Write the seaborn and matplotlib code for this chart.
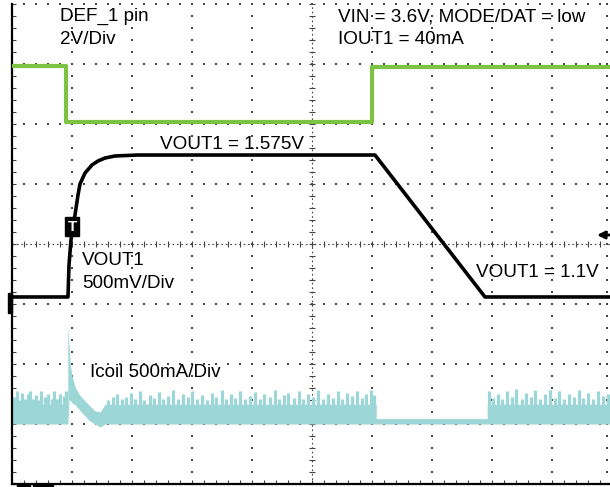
import numpy as np
import pandas as pd
import matplotlib
matplotlib.use("Agg")
import matplotlib.pyplot as plt
from matplotlib.patches import Rectangle
import seaborn as sns

# ---------------- data (oscilloscope divisions: x 0..10, y 0..8) ----------------
def_t = [0.0, 0.9, 0.9, 6.0, 6.0, 10.0]
def_v = [6.96, 6.96, 6.04, 6.04, 6.95, 6.95]

vout_t = [0.0, 0.933, 0.95, 0.983, 1.017, 1.05, 1.1, 1.133, 1.217, 1.333, 1.433,
          1.55, 1.717, 2.1, 6.05, 7.883, 10.0]
vout_v = [3.117, 3.117, 3.65, 4.067, 4.317, 4.483, 4.817, 5.0, 5.183, 5.317, 5.383,
          5.433, 5.467, 5.483, 5.483, 3.117, 3.117]

ic_t = [0.0, 0.93, 0.93, 0.95, 0.97, 1.0, 1.05, 1.13, 1.22, 1.3, 1.38, 1.47, 1.55,
        6.07, 6.07, 7.92, 7.92, 10.0]
ic_hi = [1.33, 1.33, 2.65, 2.3, 2.0, 1.8, 1.62, 1.48, 1.38, 1.3, 1.22, 1.2, 1.33,
         1.33, 1.09, 1.09, 1.33, 1.33]
ic_lo = [1.0, 1.0, 1.0, 1.4, 1.4, 1.35, 1.32, 1.23, 1.13, 1.05, 1.0, 0.95, 1.0,
         1.0, 1.0, 1.0, 1.0, 1.0]

spike_t = [0.03, 0.08, 0.12, 0.17, 0.22, 0.26, 0.3, 0.35, 0.4, 0.45, 0.49, 0.55, 0.6,
           0.66, 0.7, 0.75, 0.8, 0.86, 0.9,
           1.6, 1.68, 1.75, 1.83, 1.9, 1.98, 2.05, 2.13, 2.2, 2.3, 2.37, 2.45, 2.52,
           2.6, 2.68, 2.77, 2.85, 2.93, 3.0, 3.08, 3.17, 3.25, 3.33, 3.4, 3.5, 3.57,
           3.65, 3.72, 3.8, 3.88, 3.97, 4.05, 4.13, 4.2, 4.3, 4.38, 4.45, 4.53, 4.6,
           4.7, 4.78, 4.85, 4.93, 5.02, 5.1, 5.18, 5.27, 5.35, 5.43, 5.5, 5.58, 5.67,
           5.75, 5.83, 5.9, 5.98, 6.04,
           7.95, 8.02, 8.1, 8.17, 8.25, 8.33, 8.4, 8.5, 8.57, 8.65, 8.72, 8.8, 8.88,
           8.97, 9.05, 9.12, 9.2, 9.28, 9.37, 9.45, 9.52, 9.6, 9.68, 9.77, 9.85, 9.93]
spike_top = [1.45, 1.55, 1.4, 1.52, 1.42, 1.5, 1.55, 1.42, 1.48, 1.4, 1.55, 1.45, 1.5,
             1.42, 1.55, 1.42, 1.5, 1.47, 1.55,
             1.4, 1.45, 1.5, 1.42, 1.45, 1.52, 1.42, 1.55, 1.4, 1.48, 1.44, 1.53, 1.42,
             1.47, 1.56, 1.42, 1.5, 1.45, 1.55, 1.42, 1.48, 1.4, 1.52, 1.45, 1.57, 1.42,
             1.5, 1.44, 1.55, 1.42, 1.47, 1.53, 1.42, 1.5, 1.45, 1.56, 1.42, 1.48, 1.52,
             1.44, 1.55, 1.42, 1.5, 1.45, 1.57, 1.42, 1.5, 1.44, 1.55, 1.42, 1.52, 1.46,
             1.55, 1.44, 1.5, 1.56, 1.48,
             1.55, 1.44, 1.5, 1.42, 1.55, 1.45, 1.58, 1.42, 1.52, 1.45, 1.56, 1.42, 1.5,
             1.57, 1.44, 1.55, 1.42, 1.5, 1.45, 1.56, 1.44, 1.52, 1.42, 1.55, 1.47, 1.5]

labels = [
    ("DEF_1 pin", 60, 21), ("2V/Div", 60, 44),
    ("VIN = 3.6V, MODE/DAT = low", 338, 21), ("IOUT1 = 40mA", 338, 44),
    ("VOUT1 = 1.575V", 160, 149),
    ("VOUT1", 82, 265), ("500mV/Div", 82, 288),
    ("VOUT1 = 1.1V", 476, 277),
    ("Icoil 500mA/Div", 90, 377),
]

GREEN = "#7cc243"
CYAN = "#9cd6d6"
GRID = "#444444"

# ---------------- figure ----------------
sns.set_theme(style="white")
plt.rcParams["font.family"] = ["Liberation Sans", "DejaVu Sans"]

W, H = 610, 487
fig = plt.figure(figsize=(W / 100, H / 100), dpi=100)
fig.patch.set_facecolor("white")
ax = fig.add_axes([12 / W, 3 / H, 600 / W, 480 / H])
ax.set_facecolor("white")
ax.set_xlim(0, 10)
ax.set_ylim(0, 8)

# dotted graticule
sub = np.arange(0, 10.001, 0.2)
suby = np.arange(0, 8.001, 0.2)
for gx in [1, 2, 3, 4, 6, 7, 8, 9, 9.917]:
    ax.scatter(np.full_like(suby, gx), suby, s=1.6, marker="s", color=GRID, lw=0, zorder=1,
               clip_on=False)
for gy in [1, 2, 3, 5, 6, 7, 8]:
    ax.scatter(sub, np.full_like(sub, gy), s=1.6, marker="s", color=GRID, lw=0, zorder=1,
               clip_on=False)
# centre cross
ax.axhline(4, color=GRID, lw=0.8, ls=(0, (1.5, 2.5)), zorder=1)
ax.axvline(5, color=GRID, lw=0.8, ls=(0, (1.5, 2.5)), zorder=1)
ax.plot(sub, np.full_like(sub, 4), ls="none", marker="|", ms=5, mew=0.8, color=GRID, zorder=1)
ax.plot(np.full_like(suby, 5), suby, ls="none", marker="_", ms=5, mew=0.8, color=GRID, zorder=1)

# Icoil trace
ax.fill_between(ic_t, ic_lo, ic_hi, color=CYAN, lw=0, zorder=2)
ax.vlines(spike_t, 1.2, spike_top, color=CYAN, lw=2.3, zorder=2)

# DEF_1 trace
sns.lineplot(x=def_t, y=def_v, ax=ax, color=GREEN, lw=3, sort=False, estimator=None, zorder=3)
# VOUT1 trace
sns.lineplot(x=vout_t, y=vout_v, ax=ax, color="black", lw=2.6, sort=False, estimator=None, zorder=4)

# spines / ticks
for s in ["top", "right"]:
    ax.spines[s].set_visible(False)
for s in ["left", "bottom"]:
    ax.spines[s].set_visible(True)
    ax.spines[s].set_color("black")
    ax.spines[s].set_linewidth(1.6)
ax.set_xticks(sub)
ax.set_yticks(suby)
ax.tick_params(axis="both", direction="in", length=3, width=0.8, color=GRID,
               labelleft=False, labelbottom=False, left=True, bottom=True)
ax.set_xlabel("")
ax.set_ylabel("")

# markers
ax.text(1.0, 4.29, "T", color="white", fontsize=11, fontweight="bold", ha="center",
        va="center", zorder=6,
        bbox=dict(boxstyle="square,pad=0.15", fc="black", ec="black"))
ax.add_patch(Rectangle((-0.075, 2.85), 0.075, 0.33, color="black", clip_on=False, zorder=6))
ax.annotate("", xy=(9.75, 4.15), xytext=(10.0, 4.15), annotation_clip=False,
            arrowprops=dict(arrowstyle="-|>", color="black", lw=2.0, mutation_scale=11,
                            shrinkA=0, shrinkB=0))
ax.add_patch(Rectangle((0.083, -0.06), 0.22, 0.06, color="black", clip_on=False, zorder=6))
ax.add_patch(Rectangle((0.35, -0.06), 0.33, 0.06, color="black", clip_on=False, zorder=6))

for s, px, py in labels:
    fig.text(px / W, 1 - py / H, s, fontsize=13.6, color="black", va="baseline", ha="left")

fig.savefig("out.png", dpi=100)
